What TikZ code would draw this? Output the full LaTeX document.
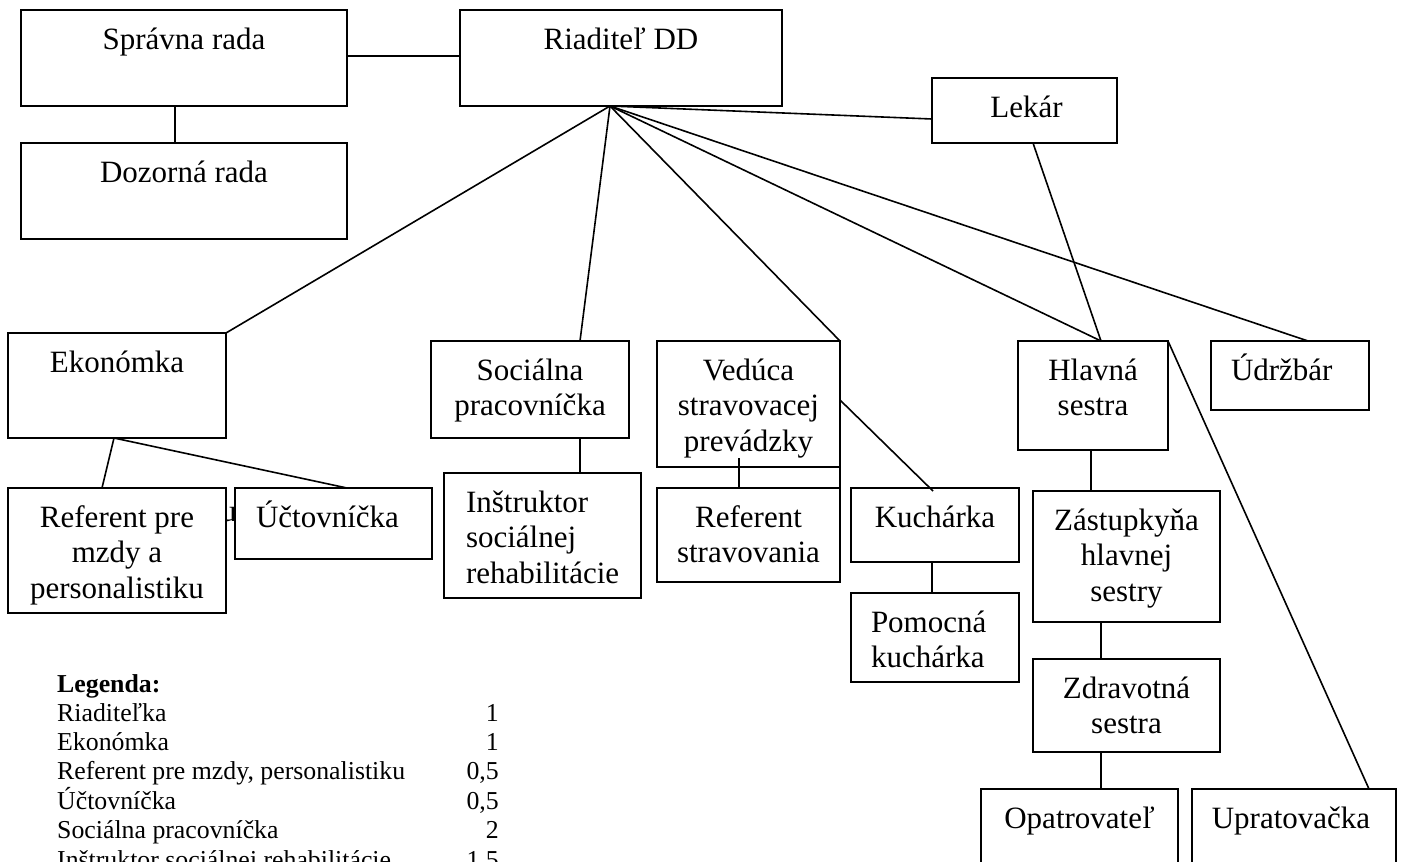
\documentclass[tikz,border=0pt]{standalone}
\usepackage{fontspec}
\setmainfont{Liberation Serif}
\usetikzlibrary{calc}
\begin{document}
\begin{tikzpicture}[x=1pt,y=-1pt,
  box/.style={draw, line width=2pt, rectangle, inner sep=0pt, outer sep=0pt, anchor=north west},
  conn/.style={line width=1.6pt},
  lbl/.style={inner sep=0pt, outer sep=0pt, font=\fontsize{31}{35.5}\selectfont},
  lblc/.style={lbl, align=center, anchor=north},
  lbll/.style={lbl, align=left, anchor=north west},
  leg/.style={inner sep=0pt, font=\fontsize{25.8}{29.5}\selectfont, anchor=base west},
  legn/.style={inner sep=0pt, font=\fontsize{25.8}{29.5}\selectfont, anchor=base east}]
\fill[white] (0,0) rectangle (1401,862);
\useasboundingbox (0,0) rectangle (1401,862);
\newcommand{\st}{\rule{0pt}{28pt}}

% hidden glyph fragment
\begin{scope}
  \clip (226.5,495) rectangle (234.5,530);
  \node[lbl, anchor=base west] (frag) at (221,521) {u};
\end{scope}

% boxes
\node[box, minimum width=326pt, minimum height=96pt] (sprav) at (21,10) {};
\node[box, minimum width=326pt, minimum height=96pt] (dozor) at (21,143) {};
\node[box, minimum width=322pt, minimum height=96pt] (riad) at (460,10) {};
\node[box, minimum width=185pt, minimum height=65pt] (lekar) at (932,78) {};
\node[box, minimum width=218pt, minimum height=105pt] (ekon) at (8,333) {};
\node[box, minimum width=218pt, minimum height=125pt] (ref) at (8,488) {};
\node[box, minimum width=197pt, minimum height=71pt] (uct) at (235,488) {};
\node[box, minimum width=198pt, minimum height=97pt] (soc) at (431,341) {};
\node[box, minimum width=197pt, minimum height=125pt] (inst) at (444,473) {};
\node[box, minimum width=183pt, minimum height=126pt] (ved) at (657,341) {};
\node[box, minimum width=183pt, minimum height=94pt] (refs) at (657,488) {};
\node[box, minimum width=168pt, minimum height=74pt] (kuch) at (851,488) {};
\node[box, minimum width=168pt, minimum height=89pt] (pom) at (851,593) {};
\node[box, minimum width=150pt, minimum height=109pt] (hlav) at (1018,341) {};
\node[box, minimum width=158pt, minimum height=69pt] (udr) at (1211,341) {};
\node[box, minimum width=187pt, minimum height=131pt] (zast) at (1033,491) {};
\node[box, minimum width=187pt, minimum height=93pt] (zdrav) at (1033,659) {};
\node[box, minimum width=197pt, minimum height=111pt] (opat) at (981,789) {};
\node[box, minimum width=204pt, minimum height=111pt] (uprat) at (1192,789) {};

% texts
\node[lblc] (sprav-t) at ($(sprav.north)+(0,11)$) {\st Správna rada};
\node[lblc] (dozor-t) at ($(dozor.north)+(0,11)$) {\st Dozorná rada};
\node[lblc] (riad-t) at ($(riad.north)+(0,11)$) {\st Riaditeľ DD};
\node[lblc] (lekar-t) at ($(lekar.north)+(2,11)$) {\st Lekár};
\node[lblc] (ekon-t) at ($(ekon.north)+(0,11)$) {\st Ekonómka};
\node[lblc] (ref-t) at ($(ref.north)+(0,11)$) {\st Referent pre\\mzdy a\\personalistiku};
\node[lbll] (uct-t) at ($(uct.north west)+(21,11)$) {\st Účtovníčka};
\node[lblc] (soc-t) at ($(soc.north)+(0,11)$) {\st Sociálna\\pracovníčka};
\node[lbll] (inst-t) at ($(inst.north west)+(22,11)$) {\st Inštruktor\\sociálnej\\rehabilitácie};
\node[lblc] (ved-t) at ($(ved.north)+(0,11)$) {\st Vedúca\\stravovacej\\prevádzky};
\node[lblc] (refs-t) at ($(refs.north)+(0,11)$) {\st Referent\\stravovania};
\node[lblc] (kuch-t) at ($(kuch.north)+(0,11)$) {\st Kuchárka};
\node[lbll] (pom-t) at ($(pom.north west)+(20,11)$) {\st Pomocná\\kuchárka};
\node[lblc] (hlav-t) at ($(hlav.north)+(0,11)$) {\st Hlavná\\sestra};
\node[lbll] (udr-t) at ($(udr.north west)+(20,11)$) {\st Údržbár};
\node[lblc] (zast-t) at ($(zast.north)+(0,11)$) {\st Zástupkyňa\\hlavnej\\sestry};
\node[lblc] (zdrav-t) at ($(zdrav.north)+(0,11)$) {\st Zdravotná\\sestra};
\node[lblc] (opat-t) at ($(opat.north)+(0,11)$) {\st Opatrovateľ};
\node[lblc] (uprat-t) at ($(uprat.north)+(-3,11)$) {\st Upratovačka};

% connectors
\coordinate (F) at ($(riad.south west)+(150,0)$);
\draw[conn] (sprav.east |- 0,56) -- (riad.west |- 0,56);
\draw[conn] ($(sprav.south west)+(154,0)$) -- ($(dozor.north west)+(154,0)$);
\draw[conn] (F) -- (ekon.north east);
\draw[conn] (F) -- ($(soc.north west)+(149,0)$);
\draw[conn] (F) -- (ved.north east);
\draw[conn] (F) -- ($(hlav.north west)+(83,0)$);
\draw[conn] (F) -- ($(udr.north west)+(97,0)$);
\draw[conn] (F) -- ($(lekar.south west)+(0,-24)$);
\draw[conn] ($(lekar.south west)+(101,0)$) -- ($(hlav.north west)+(83,0)$);
\draw[conn] (hlav.north east) -- ($(uprat.north west)+(177,0)$);
\draw[conn] ($(ved.north east)+(0,59)$) -- ($(kuch.north west)+(82,3)$);
\draw[conn] ($(ved.south west)+(82,-9)$) -- ($(refs.north west)+(82,0)$);
\draw[conn] (ved.south east) -- (refs.north east);
\draw[conn] ($(soc.south west)+(149,0)$) -- ($(inst.north west)+(136,0)$);
\draw[conn] ($(kuch.south west)+(81,0)$) -- ($(pom.north west)+(81,0)$);
\draw[conn] ($(hlav.south west)+(73,0)$) -- ($(zast.north west)+(58,0)$);
\draw[conn] ($(zast.south west)+(68,0)$) -- ($(zdrav.north west)+(68,0)$);
\draw[conn] ($(zdrav.south west)+(68,0)$) -- ($(opat.north west)+(120,0)$);
\draw[conn] ($(ekon.south west)+(106,0)$) -- ($(ref.north west)+(94,0)$);
\draw[conn] ($(ekon.south west)+(106,0)$) -- ($(uct.north west)+(112,0)$);

% legend
\node[leg, font=\fontsize{25.8}{29.5}\selectfont\bfseries] (lg0) at (57,692) {Legenda:};
\node[leg] (lg1) at (57,721) {Riaditeľka};
\node[legn] (ln1) at (499,721) {1};
\node[leg] (lg2) at (57,750) {Ekonómka};
\node[legn] (ln2) at (499,750) {1};
\node[leg] (lg3) at (57,779.5) {Referent pre mzdy, personalistiku};
\node[legn] (ln3) at (499,779.5) {0,5};
\node[leg] (lg4) at (57,809) {Účtovníčka};
\node[legn] (ln4) at (499,809) {0,5};
\node[leg] (lg5) at (57,838.5) {Sociálna pracovníčka};
\node[legn] (ln5) at (499,838.5) {2};
\node[leg] (lg6) at (57,868) {Inštruktor sociálnej rehabilitácie};
\node[legn] (ln6) at (499,868) {1,5};
\end{tikzpicture}
\end{document}
